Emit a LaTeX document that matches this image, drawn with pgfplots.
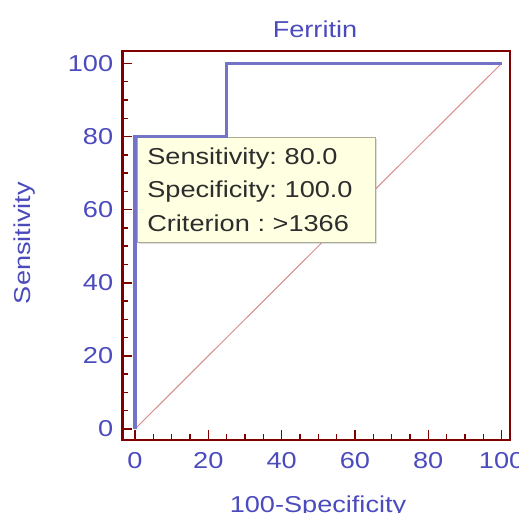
\documentclass[border=0pt]{standalone}
\usepackage{pgfplots}
\pgfplotsset{compat=1.18}
\usetikzlibrary{shadows}
\usepackage{fontspec}
\setmainfont{Liberation Sans}[FakeStretch=1.18]
\definecolor{framec}{RGB}{128,0,0}
\definecolor{lbl}{RGB}{75,75,190}
\definecolor{roc}{RGB}{115,115,200}
\definecolor{diag}{RGB}{215,140,140}
\definecolor{tipfill}{RGB}{255,255,225}
\definecolor{tipborder}{RGB}{170,170,150}
\definecolor{tiptext}{RGB}{45,45,45}
\frenchspacing
\begin{document}
\begin{tikzpicture}[x=0.75pt,y=0.75pt]
\useasboundingbox (-122.5,-73) rectangle (396.5,440);
\begin{axis}[
  at={(0,0)}, anchor=south west,
  scale only axis, width=290.625pt, height=291.75pt,
  xmin=-3.4, xmax=102.3, ymin=-3.0, ymax=103.4,
  xtick={0,20,...,100}, ytick={0,20,...,100},
  minor tick num=3,
  tick pos=left, tick align=inside,
  major tick length=7.5pt, minor tick length=4.2pt,
  tick style={color=framec, line width=1.1pt},
  axis line style={color=framec, line width=1.6pt},
  /pgf/number format/assume math mode=true,
  tick label style={color=lbl, font=\fontsize{17.25}{20}\selectfont},
  xticklabel style={yshift=-5.5pt},
  yticklabel style={xshift=-3.5pt},
]
\addplot[color=diag, line width=0.75pt] coordinates {(0,0) (100,100)};
\node[anchor=north west, draw=tipborder, fill=tipfill, line width=0.8pt,
      drop shadow={opacity=0.25, shadow xshift=1.5pt, shadow yshift=-1.5pt},
      text=tiptext, align=left, text width=163.5pt, inner xsep=7.5pt, inner ysep=8pt,
      font=\fontsize{17.25}{25.1}\selectfont]
  at (axis cs:0.5,80) {Sensitivity: 80.0\\Specificity: 100.0\\Criterion : >1366};
\addplot[color=roc, line width=2.6pt] coordinates {(0,0) (0,80) (25,80) (25,100) (100,100)};
\end{axis}
\node[anchor=base, text=lbl, font=\fontsize{17.25}{20}\selectfont] at (192.5,402) {Ferritin};
\node[anchor=base, text=lbl, font=\fontsize{17.25}{20}\selectfont] at (195.5,-72.5) {100-Specificity};
\node[anchor=center, rotate=90, text=lbl, font=\fontsize{17.25}{20}\selectfont] at (-97.5,197) {Sensitivity};
\end{tikzpicture}
\end{document}
